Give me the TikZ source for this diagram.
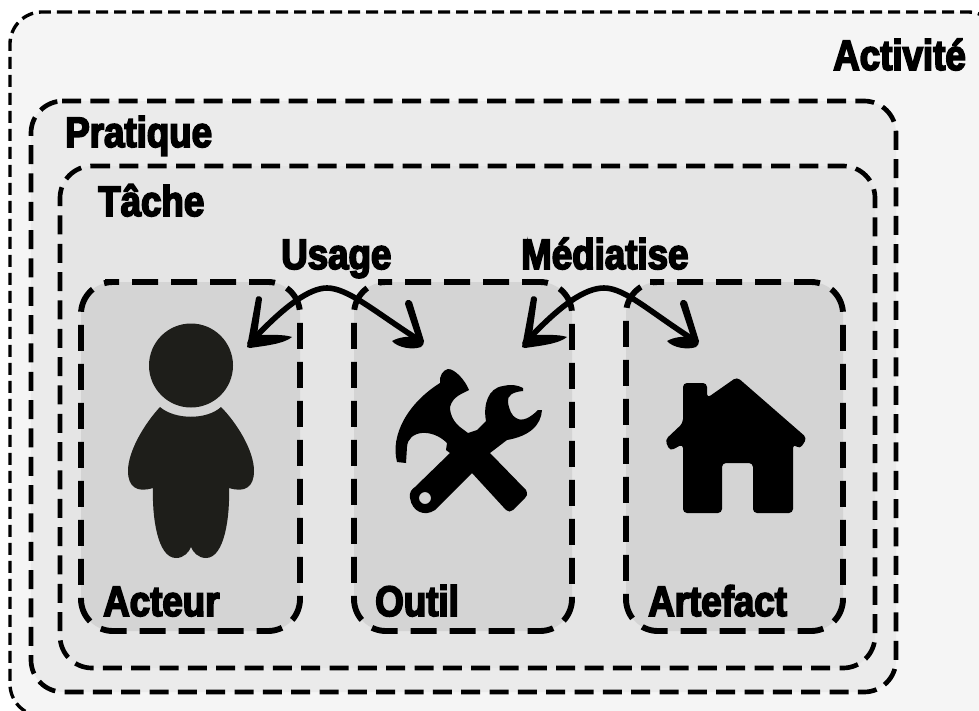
\documentclass[tikz,border=0pt]{standalone}
\usepackage{fontspec}
\setmainfont{Liberation Sans}[BoldFont={Liberation Sans Bold},BoldFeatures={FakeStretch=0.86,FakeBold=4}]
\definecolor{persona}{HTML}{1E1E1A}
\tikzset{
 x=0.75pt,y=-0.75pt,
 zoneA/.style={fill=black!4,line width=2.5pt,dash pattern=on 9pt off 4.5pt,rounded corners=24},
 zoneB/.style={fill=black!8,line width=3.5pt,dash pattern=on 14.25pt off 7pt,rounded corners=24},
 zoneC/.style={fill=black!10,line width=3.5pt,dash pattern=on 14.25pt off 7pt,rounded corners=24},
 zoneD/.style={fill=black!17,line width=4.4pt,dash pattern=on 19.5pt off 9.75pt,dash phase=9pt,rounded corners=24},
 lab/.style={font=\bfseries\fontsize{32}{32}\selectfont,text=black,inner sep=0,anchor=base west},
 swoop/.style={line width=4.2pt,black,line cap=round},
 icon/.style={fill=black,draw=none},
 headL/.pic={\fill[black] (-1,2) -- (8,-47) .. controls (9,-50) and (14,-49) .. (14,-46) -- (9,-10) .. controls (20,-10) and (35,-11) .. (44,-8) .. controls (36,-1) and (15,1) .. (2,3) -- cycle;},
 headR/.pic={\fill[black] (1,-4) -- (-11,-43) .. controls (-14,-47) and (-18,-45) .. (-18,-41) -- (-7,-8) .. controls (-14,-9) and (-24,-8) .. (-31,-4) .. controls (-25,3) and (-10,5) .. (-2,2) .. controls (0,1) and (1,-2) .. (1,-4) -- cycle;},
}
\begin{document}
\begin{tikzpicture}
\useasboundingbox (0,0) rectangle (979,711);
\fill[white] (0,0) rectangle (979,711);
\clip (0,0) rectangle (979,711);
% zones
\draw[zoneA] (60,12) -- (1000,12) -- (1000,716) -- (10,716) -- (10,12) -- (60,12);
\draw[zoneB] (62,101) -- (896,101) -- (896,692) -- (31,692) -- (31,101) -- (62,101);
\draw[zoneC] (91,166) -- (875,166) -- (875,668) -- (60,668) -- (60,166) -- (91,166);
\foreach \a/\b in {81/300,354/572,626/843}{
 \draw[zoneD] (\a+24,282) -- (\b,282) -- (\b,631) -- (\a,631) -- (\a,282) -- (\a+24,282);
}
% labels
\node[lab] (act) at (833,70) {Activité};
\node[lab] (pra) at (65,147) {Pratique};
\node[lab] (tac) at (98,216) {Tâche};
\node[lab] (usa) at (281,269) {Usage};
\node[lab] (med) at (521,269) {Médiatise};
\node[lab] (acr) at (103,616) {Acteur};
\node[lab] (out) at (375,616) {Outil};
\node[lab] (art) at (648,616) {Artefact};
% person
\fill[persona] (191,365.5) circle (42);
\fill[persona] (160,407) .. controls (175,420) and (207,420) .. (221,407)
 .. controls (236,422) and (254,450) .. (254,471)
 .. controls (254,487) and (245,493) .. (229,488)
 .. controls (230,515) and (225,558) .. (206,558)
 .. controls (198,558) and (193,552) .. (191,547)
 .. controls (189,552) and (184,558) .. (176,558)
 .. controls (157,558) and (152,515) .. (153,488)
 .. controls (137,493) and (128,487) .. (128,471)
 .. controls (128,450) and (146,422) .. (160,407) -- cycle;
% tools
\fill[icon,even odd rule] (448,369) .. controls (455,369) and (465,380) .. (469,390)
 .. controls (462,394) and (453,396) .. (450,407)
 .. controls (450,416) and (455,423) .. (460,427) -- (468,433) -- (477,430)
 -- (486,421) .. controls (483,405) and (488,388) .. (503,386) .. controls (510,384) and (518,385) .. (523,388)
 -- (523,391) .. controls (512,392) and (507,396) .. (508,402) .. controls (509,410) and (512,416) .. (516,418) .. controls (522,422) and (530,418) .. (538,410) -- (542,410) .. controls (541,425) and (530,436) .. (507,440)
 -- (490,453) -- (526,490) .. controls (528,494) and (527,497) .. (525,498)
 -- (513,510) .. controls (511,512) and (508,512) .. (506,510)
 -- (472,473) -- (435,510) .. controls (425,517) and (412,512) .. (410,498) .. controls (409,492) and (412,489) .. (415,487)
 -- (450,453) -- (446,450) -- (447,443) .. controls (432,428) and (408,430) .. (407,447) -- (406,463)
 -- (397,462) .. controls (390,435) and (408,403) .. (440,383) .. controls (439,376) and (443,370) .. (448,369) -- cycle
 (425,498) circle (6);
% house
\fill[icon,rounded corners=3] (683,383) -- (707,383) -- (707,398) -- (737,377) -- (807,438) -- (800,449) -- (793,444) -- (793,513) -- (753,513) -- (753,463) -- (722,463) -- (722,513) -- (683,513) -- (683,444) -- (670,451) -- (665,440) -- (683,423) -- cycle;
% arrows
\coordinate (ua) at (250,343);
\coordinate (ub) at (419,340);
\coordinate (ma) at (525,343);
\coordinate (mb) at (694,340);
\draw[swoop] (ua) .. controls (285,305) and (310,288) .. (327,288) .. controls (348,288) and (375,312) .. (ub);
\draw[swoop] (ma) .. controls (560,305) and (585,288) .. (604,288) .. controls (625,288) and (650,312) .. (mb);
\pic at (248,345) {headL};
\pic at (523,345) {headL};
\pic at (423,345) {headR};
\pic at (698,345) {headR};
\end{tikzpicture}
\end{document}
